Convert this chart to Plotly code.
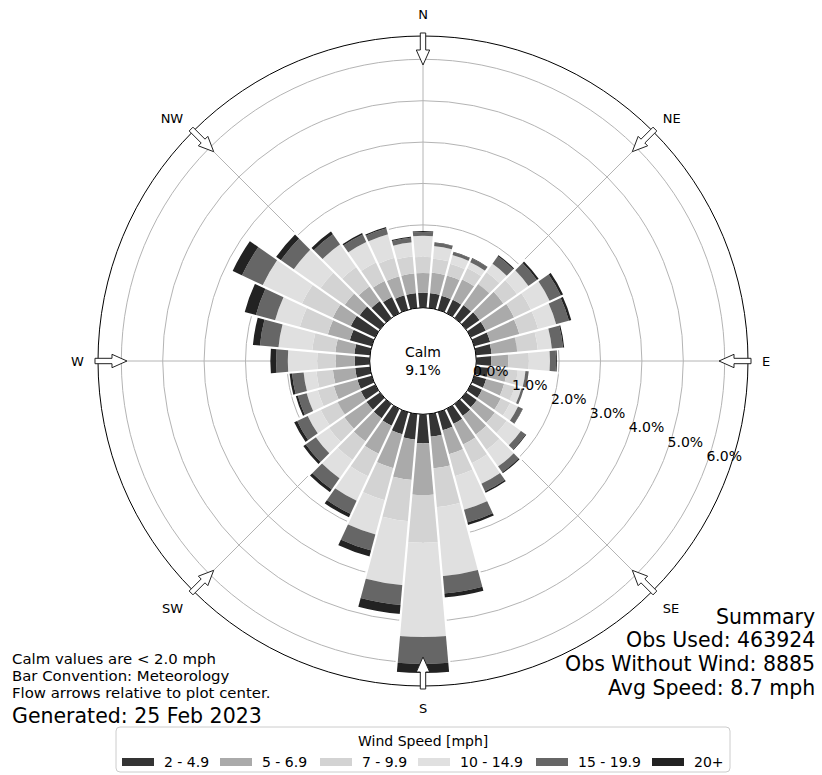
import plotly.graph_objects as go
import numpy as np

# ---- data: percent of observations by direction (deg, from) and speed bin ----
directions = list(range(0, 360, 10))
speed_bins = ["2 - 4.9", "5 - 6.9", "7 - 9.9", "10 - 14.9", "15 - 19.9", "20+"]
bin_colors = ["#343434", "#aaaaaa", "#d3d3d3", "#e0e0e0", "#666666", "#222222"]

pct_2_5 = [0.36, 0.36, 0.35, 0.36, 0.38, 0.40, 0.40, 0.40, 0.38, 0.36, 0.30, 0.30,
           0.30, 0.32, 0.35, 0.40, 0.45, 0.55, 0.70, 0.62, 0.55, 0.45, 0.42, 0.40,
           0.38, 0.36, 0.36, 0.36, 0.38, 0.55, 0.65, 0.60, 0.50, 0.43, 0.36, 0.36]
pct_5_7 = [0.48, 0.50, 0.51, 0.54, 0.62, 0.70, 0.75, 0.73, 0.62, 0.41, 0.45, 0.45,
           0.50, 0.53, 0.55, 0.55, 0.60, 0.77, 1.25, 0.98, 0.85, 0.75, 0.68, 0.65,
           0.62, 0.59, 0.54, 0.46, 0.46, 0.55, 0.48, 0.44, 0.43, 0.43, 0.48, 0.48]
pct_7_10 = [0.39, 0.34, 0.29, 0.30, 0.35, 0.40, 0.45, 0.47, 0.50, 0.50, 0.25, 0.25,
            0.25, 0.35, 0.45, 0.50, 0.55, 0.94, 1.15, 1.00, 0.80, 0.60, 0.55, 0.45,
            0.45, 0.40, 0.40, 0.45, 0.56, 0.70, 0.82, 0.71, 0.57, 0.49, 0.46, 0.41]
pct_10_15 = [0.51, 0.30, 0.22, 0.16, 0.25, 0.34, 0.50, 0.45, 0.34, 0.51, 0.20, 0.18,
             0.21, 0.42, 0.49, 0.55, 0.84, 1.67, 2.28, 1.55, 0.86, 0.65, 0.54, 0.39,
             0.35, 0.28, 0.31, 0.71, 0.82, 0.62, 1.05, 0.79, 0.67, 0.55, 0.59, 0.34]
pct_15_20 = [0.09, 0.08, 0.07, 0.10, 0.22, 0.25, 0.30, 0.32, 0.27, 0.15, 0.08, 0.06,
             0.12, 0.14, 0.17, 0.20, 0.32, 0.42, 0.65, 0.48, 0.40, 0.35, 0.33, 0.30,
             0.28, 0.22, 0.28, 0.28, 0.45, 0.48, 0.55, 0.38, 0.30, 0.20, 0.15, 0.12]
pct_20_up = [0.02, 0.01, 0.01, 0.01, 0.03, 0.05, 0.06, 0.06, 0.03, 0.02, 0.00, 0.00,
             0.01, 0.02, 0.03, 0.04, 0.06, 0.10, 0.22, 0.22, 0.15, 0.09, 0.08, 0.07,
             0.08, 0.05, 0.06, 0.14, 0.17, 0.28, 0.25, 0.14, 0.08, 0.04, 0.03, 0.02]

radial_ticks = [0, 1, 2, 3, 4, 5, 6]
compass_angles = [0, 45, 90, 135, 180, 225, 270, 315]
compass_labels = ["N", "NE", "E", "SE", "S", "SW", "W", "NW"]

calm_pct = 9.1
summary_lines = ["Summary", "Obs Used: 463924", "Obs Without Wind: 8885",
                 "Avg Speed: 8.7 mph"]
note_lines = ["Calm values are < 2.0 mph", "Bar Convention: Meteorology",
              "Flow arrows relative to plot center."]
generated = "Generated: 25 Feb 2023"

series = [pct_2_5, pct_5_7, pct_7_10, pct_10_15, pct_15_20, pct_20_up]

# ---- page geometry (pixels) ----
W, H = 822, 775
CX, CY, R_OUT = 423, 361, 325
R_HOLE = 53.3
R_MAX = 6.563


def px(x):
    return x / W


def py(y):
    return 1 - y / H


fig = go.Figure()

for name, vals, col in zip(speed_bins, series, bin_colors):
    fig.add_trace(go.Barpolar(
        r=vals, theta=directions, width=10, name=name,
        marker=dict(color=col, line=dict(width=0)),
        hoverinfo="skip", showlegend=False,
    ))

# thin white separators between neighbouring direction bars
totals = np.sum(np.array(series), axis=0)
sep_r, sep_t = [], []
for i, d in enumerate(directions):
    top = max(totals[i], totals[(i + 1) % len(directions)]) + 0.05
    sep_r += [0, top, None]
    sep_t += [d + 5, d + 5, None]
fig.add_trace(go.Scatterpolar(
    r=sep_r, theta=sep_t, mode="lines",
    line=dict(color="white", width=2.2), hoverinfo="skip", showlegend=False,
))

# radial percentage labels
fig.add_trace(go.Scatterpolar(
    r=radial_ticks, theta=[110] * len(radial_ticks), mode="text",
    text=[f"{v:.1f}%" for v in radial_ticks], textposition="top right",
    textfont=dict(size=14, color="black"), hoverinfo="skip", showlegend=False,
))

fig.update_layout(
    width=W, height=H,
    margin=dict(l=0, r=0, t=0, b=0),
    paper_bgcolor="white",
    font=dict(family="DejaVu Sans", color="black"),
    showlegend=False,
    polar=dict(
        domain=dict(x=[px(CX - R_OUT), px(CX + R_OUT)],
                    y=[py(CY + R_OUT), py(CY - R_OUT)]),
        hole=R_HOLE / R_OUT,
        bgcolor="white",
        barmode="stack",
        radialaxis=dict(range=[0, R_MAX], tickvals=radial_ticks[1:],
                        showticklabels=False, ticks="", showline=False,
                        gridcolor="#b4b4b4", gridwidth=1, layer="above traces"),
        angularaxis=dict(direction="clockwise", rotation=90,
                         tickvals=compass_angles, ticktext=compass_labels,
                         tickfont=dict(size=13), ticks="outside", ticklen=11,
                         tickcolor="rgba(0,0,0,0)",
                         showline=True, linecolor="black", linewidth=1,
                         gridcolor="#b4b4b4", gridwidth=1, layer="above traces"),
    ),
)

# flow arrows pointing toward the centre at each compass point
shapes = []
arrow_outline = [(328, -2.7), (311, -2.7), (311, -6.7), (296, 0),
                 (311, 6.7), (311, 2.7), (328, 2.7)]
for ang in compass_angles:
    t = np.deg2rad(ang)
    ux, uy = np.sin(t), -np.cos(t)
    vx, vy = np.cos(t), np.sin(t)
    pts = [(CX + r * ux + w * vx, CY + r * uy + w * vy) for r, w in arrow_outline]
    path = "M " + " L ".join(f"{px(x):.5f},{py(y):.5f}" for x, y in pts) + " Z"
    shapes.append(dict(type="path", path=path, xref="paper", yref="paper",
                       fillcolor="white", line=dict(color="#222222", width=1),
                       layer="above"))

# legend frame with rounded corners
LX0, LX1, LY0, LY1, RC = 116, 730, 727, 772, 4
frame = (f"M {px(LX0 + RC)},{py(LY0)} L {px(LX1 - RC)},{py(LY0)} "
         f"Q {px(LX1)},{py(LY0)} {px(LX1)},{py(LY0 + RC)} "
         f"L {px(LX1)},{py(LY1 - RC)} Q {px(LX1)},{py(LY1)} {px(LX1 - RC)},{py(LY1)} "
         f"L {px(LX0 + RC)},{py(LY1)} Q {px(LX0)},{py(LY1)} {px(LX0)},{py(LY1 - RC)} "
         f"L {px(LX0)},{py(LY0 + RC)} Q {px(LX0)},{py(LY0)} {px(LX0 + RC)},{py(LY0)} Z")
shapes.append(dict(type="path", path=frame, xref="paper", yref="paper",
                   fillcolor="white", line=dict(color="#cccccc", width=1),
                   layer="above"))

annotations = []
legend_x = [122, 220, 320, 418, 536, 652]
for x0, name, col in zip(legend_x, speed_bins, bin_colors):
    shapes.append(dict(type="rect", xref="paper", yref="paper",
                       x0=px(x0), x1=px(x0 + 32), y0=py(766), y1=py(758),
                       fillcolor=col, line=dict(width=0), layer="above"))
    annotations.append(dict(x=px(x0 + 40), y=py(762), xref="paper", yref="paper",
                            text=name, showarrow=False, xanchor="left",
                            yanchor="middle", font=dict(size=14)))
annotations.append(dict(x=px(423), y=py(741), xref="paper", yref="paper",
                        text="Wind Speed [mph]", showarrow=False, xanchor="center",
                        yanchor="middle", font=dict(size=14)))

# calm share in the centre
annotations.append(dict(x=px(CX), y=py(CY), xref="paper", yref="paper",
                        text=f"Calm<br>{calm_pct:.1f}%", showarrow=False,
                        xanchor="center", yanchor="middle", font=dict(size=14)))

# summary block (right) and notes (left)
for line, yc in zip(summary_lines, [617, 640, 664, 688]):
    annotations.append(dict(x=px(816), y=py(yc), xref="paper", yref="paper",
                            text=line, showarrow=False, xanchor="right",
                            yanchor="middle", borderpad=0, font=dict(size=20.5)))
for line, yc in zip(note_lines, [659, 676, 693]):
    annotations.append(dict(x=px(11), y=py(yc), xref="paper", yref="paper",
                            text=line, showarrow=False, xanchor="left",
                            yanchor="middle", borderpad=0, font=dict(size=14.9)))
annotations.append(dict(x=px(11), y=py(716), xref="paper", yref="paper",
                        text=generated, showarrow=False, xanchor="left",
                        yanchor="middle", borderpad=0, font=dict(size=20.5)))

fig.update_layout(shapes=shapes, annotations=annotations)
fig.write_html("out.html")
